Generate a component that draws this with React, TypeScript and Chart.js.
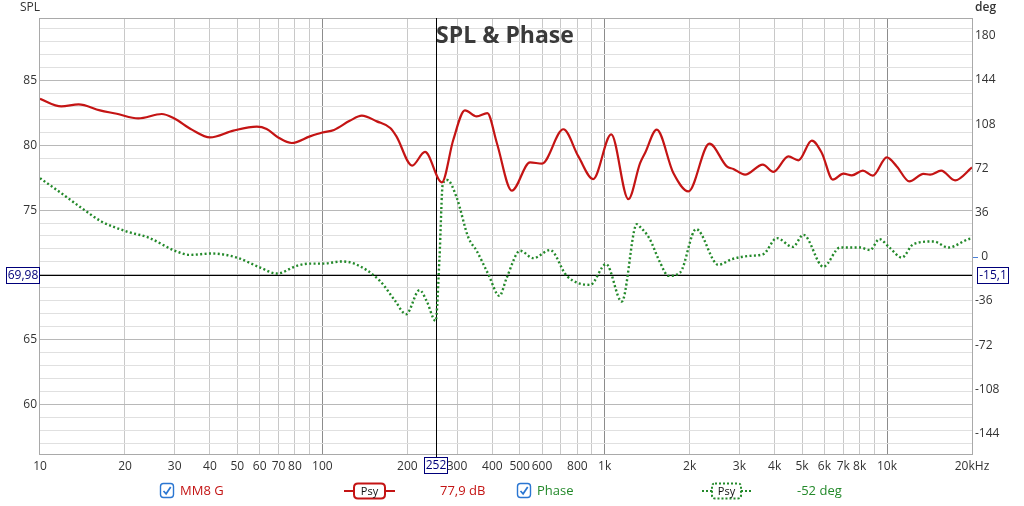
import React, { useEffect, useRef } from "react";
import { Chart, registerables } from "chart.js";

Chart.register(...registerables);

// ---------- data ----------
const splFreq = [
  10, 11.9, 13.7, 16.3, 18.7, 22.3, 27, 29.7, 34.5, 40, 48.4, 58.6, 63.5, 70, 77.9, 90.4, 100, 110, 125, 138,
  156, 174, 183, 208, 231, 265, 291, 320, 352, 384, 415, 469, 544, 600, 714, 807, 910, 1055, 1213, 1335,
  1390, 1529, 1751, 1980, 2350, 2707, 2857, 3143, 3631, 3960, 4475, 4855, 5415, 5875, 6427, 7009, 7506,
  8210, 8907, 9980, 10830, 12000, 13460, 14210, 15550, 17430, 20000,
];
const splDb = [
  83.6, 83.02, 83.17, 82.71, 82.45, 82.09, 82.43, 82.12, 81.22, 80.62, 81.14, 81.45, 81.27, 80.6, 80.19, 80.7,
  81.0, 81.2, 81.9, 82.3, 81.86, 81.35, 80.7, 78.44, 79.5, 77.15, 80.44, 82.71, 82.24, 82.5, 80.19, 76.5,
  78.69, 78.6, 81.25, 79.15, 77.4, 80.85, 75.85, 78.64, 79.42, 81.22, 77.87, 76.45, 80.14, 78.38, 78.18,
  77.74, 78.51, 77.95, 79.15, 78.85, 80.37, 79.42, 77.36, 77.82, 77.69, 78.05, 77.66, 79.08, 78.38, 77.22,
  77.8, 77.74, 78.05, 77.3, 78.3,
];

const phaseFreq = [
  10, 11.8, 14.2, 16.5, 20.3, 24.2, 30.1, 34, 40.6, 49.8, 60.2, 69, 81.2, 90.4, 101, 117, 131, 160, 181, 198,
  221, 234, 252, 260, 267, 277, 299, 329, 352, 387, 424, 450, 502, 559, 641, 734, 888, 1012, 1150, 1300,
  1335, 1440, 1571, 1681, 1850, 2108, 2527, 2820, 3274, 3649, 4071, 4638, 5057, 5953, 6823, 8030, 8710,
  9400, 10200, 11280, 12400, 14600, 16500, 19430, 20000,
];
const phaseDeg = [
  64, 52.4, 38.9, 28.8, 20.6, 15.7, 4.9, 1.6, 2.7, -0.6, -8.7, -13.6, -7.3, -5.5, -5.5, -3.8, -5.9, -19.6,
  -35.8, -46.7, -27.1, -35.8, -52.1, -0.6, 59.2, 62.5, 48.3, 15.7, 4.9, -14.1, -31.8, -16.9, 4.9, -1.1, 5.5,
  -15.5, -22.8, -5.9, -36.4, 26.6, 24.4, 15, -4.6, -15.5, -12.8, 22.6, -6.5, -1.9, 0.8, 2.2, 15.2, 8.1, 17.9,
  -8.1, 7.6, 7.6, 5.5, 14.4, 7.6, -0.6, 10.3, 12.5, 7.6, 14.4, 15,
];

const xTickValues = [
  10, 20, 30, 40, 50, 60, 70, 80, 90, 100, 200, 300, 400, 500, 600, 700, 800, 900, 1000, 2000, 3000, 4000,
  5000, 6000, 7000, 8000, 9000, 10000, 20000,
];
const xTickLabels: Record<number, string> = {
  10: "10", 20: "20", 30: "30", 40: "40", 50: "50", 60: "60", 70: "70", 80: "80", 100: "100", 200: "200",
  300: "300", 400: "400", 500: "500", 600: "600", 800: "800", 1000: "1k", 2000: "2k", 3000: "3k",
  4000: "4k", 5000: "5k", 6000: "6k", 7000: "7k", 8000: "8k", 10000: "10k", 20000: "20kHz",
};
const splGridValues = [57, 58, 59, 60, 61, 62, 63, 64, 65, 66, 67, 68, 69, 70, 71, 72, 73, 74, 75, 76, 77, 78, 79, 80, 81, 82, 83, 84, 85, 86, 87, 88, 89];
const splLabelValues = [60, 65, 70, 75, 80, 85];
const phaseTicks = [-144, -108, -72, -36, 0, 36, 72, 108, 144, 180];

const cursorFreq = 252;
const cursorSpl = 69.98;
const cursorSplLabel = "69,98";
const cursorPhaseLabel = "-15,1";
const cursorFreqLabel = "252";
const splName = "MM8 G";
const phaseName = "Phase";
const splReadout = "77,9 dB";
const phaseReadout = "-52 deg";
const titleText = "SPL & Phase";

// ---------- style ----------
const FONT = "'Open Sans', 'Noto Sans', sans-serif";
const RED = "#c41414";
const GREEN = "#23892a";
const NAVY = "#00007a";
const TEXT = "#333333";

function roundRect(ctx: CanvasRenderingContext2D, x: number, y: number, w: number, h: number, r: number) {
  ctx.beginPath();
  ctx.moveTo(x + r, y);
  ctx.lineTo(x + w - r, y);
  ctx.quadraticCurveTo(x + w, y, x + w, y + r);
  ctx.lineTo(x + w, y + h - r);
  ctx.quadraticCurveTo(x + w, y + h, x + w - r, y + h);
  ctx.lineTo(x + r, y + h);
  ctx.quadraticCurveTo(x, y + h, x, y + h - r);
  ctx.lineTo(x, y + r);
  ctx.quadraticCurveTo(x, y, x + r, y);
  ctx.closePath();
}

function drawCheckbox(ctx: CanvasRenderingContext2D, x: number, y: number) {
  ctx.save();
  ctx.strokeStyle = "#2a76d2";
  ctx.lineWidth = 1.4;
  roundRect(ctx, x, y, 13, 14, 3);
  ctx.stroke();
  ctx.lineWidth = 1.7;
  ctx.beginPath();
  ctx.moveTo(x + 3, y + 7.5);
  ctx.lineTo(x + 5.6, y + 10.3);
  ctx.lineTo(x + 10.2, y + 3.6);
  ctx.stroke();
  ctx.restore();
}

function drawBoxLabel(ctx: CanvasRenderingContext2D, text: string, x: number, y: number, w: number, h: number) {
  ctx.save();
  ctx.fillStyle = "#ffffff";
  ctx.fillRect(x, y, w, h);
  ctx.strokeStyle = NAVY;
  ctx.lineWidth = 1;
  ctx.strokeRect(x + 0.5, y + 0.5, w - 1, h - 1);
  ctx.fillStyle = NAVY;
  ctx.font = `12px ${FONT}`;
  ctx.textAlign = "center";
  ctx.textBaseline = "middle";
  ctx.fillText(text, x + w / 2, y + h / 2 + 0.5);
  ctx.restore();
}

const decorPlugin = {
  id: "decor",
  beforeDatasetsDraw(chart: any) {
    const { ctx, chartArea } = chart;
    const { left, right, top, bottom } = chartArea;
    const xs = chart.scales.x;
    const ys = chart.scales.y;
    ctx.save();
    // plot border
    ctx.strokeStyle = "#a9a9a9";
    ctx.lineWidth = 1;
    ctx.strokeRect(Math.round(left) - 0.5, Math.round(top) + 0.5, Math.round(right - left) + 1, Math.round(bottom - top));
    // cursor lines
    ctx.strokeStyle = "#000000";
    ctx.lineWidth = 1;
    const cx = Math.round(xs.getPixelForValue(cursorFreq)) + 0.5;
    const cy = Math.round(ys.getPixelForValue(cursorSpl)) + 0.5;
    ctx.beginPath();
    ctx.moveTo(cx, top);
    ctx.lineTo(cx, bottom + 3);
    ctx.moveTo(left, cy);
    ctx.lineTo(right, cy);
    ctx.stroke();
    ctx.restore();
  },
  afterDraw(chart: any) {
    const { ctx, chartArea } = chart;
    const { left, right } = chartArea;
    const xs = chart.scales.x;
    const ys = chart.scales.y;
    const y1 = chart.scales.y1;
    ctx.save();
    // title
    ctx.fillStyle = "#3a3a3a";
    ctx.font = `bold 23px ${FONT}`;
    ctx.textAlign = "center";
    ctx.textBaseline = "alphabetic";
    ctx.fillText(titleText, (left + right) / 2 - 1, 43);
    // axis titles
    ctx.fillStyle = TEXT;
    ctx.font = `12px ${FONT}`;
    ctx.textAlign = "left";
    ctx.textBaseline = "middle";
    ctx.fillText("SPL", 20, 8);
    ctx.font = `600 12px ${FONT}`;
    ctx.fillText("deg", 975, 8);
    // blue zero mark on phase axis
    const zy = Math.round(y1.getPixelForValue(0)) + 0.5;
    ctx.strokeStyle = "#4a80d8";
    ctx.lineWidth = 1;
    ctx.beginPath();
    ctx.moveTo(right + 1, zy);
    ctx.lineTo(right + 6, zy);
    ctx.stroke();
    // cursor boxes
    const cy = Math.round(ys.getPixelForValue(cursorSpl));
    drawBoxLabel(ctx, cursorSplLabel, 6, cy - 8, 34, 17);
    drawBoxLabel(ctx, cursorPhaseLabel, 977, cy - 8, 32, 17);
    const cx = Math.round(xs.getPixelForValue(cursorFreq));
    drawBoxLabel(ctx, cursorFreqLabel, cx - 12, 457, 24, 17);

    // legend
    const ly = 491;
    drawCheckbox(ctx, 160.5, 483.5);
    ctx.font = `13px ${FONT}`;
    ctx.textAlign = "left";
    ctx.textBaseline = "middle";
    ctx.fillStyle = RED;
    ctx.fillText(splName, 180, ly);
    // red sample
    ctx.strokeStyle = RED;
    ctx.lineWidth = 2;
    ctx.beginPath();
    ctx.moveTo(344, ly);
    ctx.lineTo(354, ly);
    ctx.moveTo(385, ly);
    ctx.lineTo(395, ly);
    ctx.stroke();
    roundRect(ctx, 354, 483.5, 31, 15, 4);
    ctx.stroke();
    ctx.fillStyle = "#111";
    ctx.font = `11px ${FONT}`;
    ctx.textAlign = "center";
    ctx.fillText("Psy", 369.5, ly + 0.5);
    ctx.fillStyle = RED;
    ctx.font = `13px ${FONT}`;
    ctx.textAlign = "left";
    ctx.fillText(splReadout, 440, ly);

    drawCheckbox(ctx, 517.5, 483.5);
    ctx.fillStyle = GREEN;
    ctx.font = `13px ${FONT}`;
    ctx.textAlign = "left";
    ctx.fillText(phaseName, 537, ly);
    // green sample
    ctx.strokeStyle = GREEN;
    ctx.lineWidth = 2;
    ctx.setLineDash([2, 2]);
    ctx.beginPath();
    ctx.moveTo(702, ly);
    ctx.lineTo(712, ly);
    ctx.moveTo(741, ly);
    ctx.lineTo(751, ly);
    ctx.stroke();
    roundRect(ctx, 712, 483.5, 29, 15, 3);
    ctx.stroke();
    ctx.setLineDash([]);
    ctx.fillStyle = "#111";
    ctx.font = `11px ${FONT}`;
    ctx.textAlign = "center";
    ctx.fillText("Psy", 726.5, ly + 0.5);
    ctx.fillStyle = GREEN;
    ctx.font = `13px ${FONT}`;
    ctx.textAlign = "left";
    ctx.fillText(phaseReadout, 797, ly);
    ctx.restore();
  },
};

export default function App() {
  const canvasRef = useRef<HTMLCanvasElement | null>(null);

  useEffect(() => {
    document.body.style.margin = "0";
    const canvas = canvasRef.current;
    if (!canvas) return;
    const splData = splFreq.map((f, i) => ({ x: f, y: splDb[i] }));
    const phaseData = phaseFreq.map((f, i) => ({ x: f, y: phaseDeg[i] }));

    const chart = new Chart(canvas, {
      type: "line",
      data: {
        datasets: [
          {
            label: splName,
            data: splData,
            yAxisID: "y",
            borderColor: RED,
            borderWidth: 2.2,
            pointRadius: 0,
            cubicInterpolationMode: "monotone",
            fill: false,
          },
          {
            label: phaseName,
            data: phaseData,
            yAxisID: "y1",
            borderColor: GREEN,
            borderWidth: 2.4,
            borderDash: [2, 2.4],
            pointRadius: 0,
            cubicInterpolationMode: "monotone",
            fill: false,
          },
        ],
      },
      options: {
        responsive: false,
        animation: false,
        devicePixelRatio: 1,
        layout: { padding: { top: 18, left: 0, right: 0, bottom: 0 } },
        plugins: {
          legend: { display: false },
          tooltip: { enabled: false },
          title: { display: false },
        },
        scales: {
          x: {
            type: "logarithmic",
            min: 10,
            max: 20000,
            afterBuildTicks: (scale: any) => {
              scale.ticks = xTickValues.map((v) => ({ value: v }));
            },
            afterFit: (scale: any) => {
              scale.height = 52;
            },
            border: { display: false },
            grid: {
              drawTicks: false,
              color: (c: any) => {
                const v = c.tick ? c.tick.value : 0;
                if (v === 10 || v === 20000) return "rgba(0,0,0,0)";
                return v === 100 || v === 1000 || v === 10000 ? "#8c8c8c" : "#c8c8c8";
              },
              lineWidth: 1,
            },
            ticks: {
              autoSkip: false,
              maxRotation: 0,
              minRotation: 0,
              padding: 5,
              color: TEXT,
              font: { family: FONT, size: 12 },
              callback: (v: any) => xTickLabels[Number(v)] ?? "",
            },
          },
          y: {
            type: "linear",
            position: "left",
            min: 56.15,
            max: 89.85,
            afterBuildTicks: (scale: any) => {
              scale.ticks = splGridValues.map((v) => ({ value: v }));
            },
            afterFit: (scale: any) => {
              scale.width = 40;
            },
            border: { display: false },
            grid: {
              drawTicks: false,
              color: (c: any) => {
                const v = c.tick ? c.tick.value : 0;
                return splLabelValues.includes(v) ? "#b8b8b8" : "#e0e0e0";
              },
            },
            ticks: {
              autoSkip: false,
              padding: 3,
              color: TEXT,
              font: { family: FONT, size: 12 },
              callback: (v: any) => (splLabelValues.includes(Number(v)) ? String(v) : ""),
            },
          },
          y1: {
            type: "linear",
            position: "right",
            min: -160.5,
            max: 194.4,
            afterBuildTicks: (scale: any) => {
              scale.ticks = phaseTicks.map((v) => ({ value: v }));
            },
            afterFit: (scale: any) => {
              scale.width = 52;
            },
            border: { display: false },
            grid: { display: false, drawTicks: false, drawOnChartArea: false },
            ticks: {
              autoSkip: false,
              padding: 3,
              color: TEXT,
              font: { family: FONT, size: 12 },
              callback: (v: any) => (Number(v) === 0 ? "  0" : String(v)),
            },
          },
        },
      },
      plugins: [decorPlugin],
    } as any);

    return () => {
      chart.destroy();
    };
  }, []);

  return (
    <div style={{ position: "absolute", left: 0, top: 0, width: 1024, height: 506, background: "#ffffff" }}>
      <canvas ref={canvasRef} width={1024} height={506} style={{ width: 1024, height: 506, display: "block" }} />
    </div>
  );
}
